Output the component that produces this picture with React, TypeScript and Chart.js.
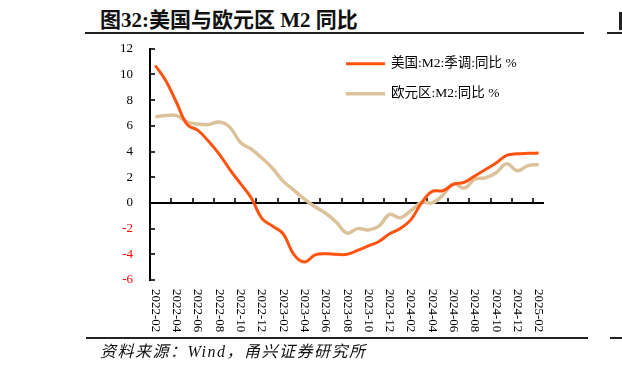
import React, { useEffect, useRef } from 'react';
import { Chart, registerables } from 'chart.js';
Chart.register(...registerables);

const categories = [
  '2022-02', '2022-03', '2022-04', '2022-05', '2022-06', '2022-07', '2022-08', '2022-09', '2022-10', '2022-11', '2022-12',
  '2023-01', '2023-02', '2023-03', '2023-04', '2023-05', '2023-06', '2023-07', '2023-08', '2023-09', '2023-10', '2023-11', '2023-12',
  '2024-01', '2024-02', '2024-03', '2024-04', '2024-05', '2024-06', '2024-07', '2024-08', '2024-09', '2024-10', '2024-11', '2024-12',
  '2025-01', '2025-02',
];

const usM2 = [
  10.7, 9.5, 7.8, 6.1, 5.65, 4.8, 3.8, 2.6, 1.5, 0.4, -1.2,
  -1.8, -2.4, -4.0, -4.6, -4.05, -3.95, -4.0, -4.0, -3.7, -3.35, -3.0, -2.4,
  -2.0, -1.3, 0.0, 0.9, 0.95, 1.45, 1.6, 2.1, 2.6, 3.1, 3.7, 3.82,
  3.86, 3.88,
];

const euM2 = [
  6.7, 6.8, 6.8, 6.3, 6.15, 6.1, 6.3, 5.9, 4.7, 4.2, 3.5,
  2.7, 1.7, 1.0, 0.3, -0.3, -0.8, -1.5, -2.35, -2.0, -2.1, -1.8, -0.9,
  -1.15, -0.6, 0.05, 0.0, 0.6, 1.5, 1.15, 1.85, 1.95, 2.35, 3.05, 2.5,
  2.9, 3.0,
];

const seriesNames = ['美国:M2:季调:同比 %', '欧元区:M2:同比 %'];
const seriesColors = ['#FF530F', '#DBC29B'];
const yMin = -6;
const yMax = 12;
const yStep = 2;

const FONT = '"Liberation Serif", "Times New Roman", "Noto Sans CJK SC", serif';

const axisPlugin = {
  id: 'axisDecor',
  beforeDatasetsDraw(chart: any) {
    const { ctx, chartArea, scales } = chart;
    const x = scales.x;
    const y = scales.y;
    ctx.save();
    ctx.strokeStyle = '#000';
    const y0 = y.getPixelForValue(0);
    ctx.lineWidth = 2;
    ctx.beginPath();
    ctx.moveTo(chartArea.left, y0);
    ctx.lineTo(chartArea.right, y0);
    ctx.stroke();
    ctx.lineWidth = 1.6;
    for (let k = 2; k < categories.length; k += 2) {
      const px = Math.round((x.getPixelForValue(k - 1) + x.getPixelForValue(k)) / 2);
      ctx.beginPath();
      ctx.moveTo(px, y0);
      ctx.lineTo(px, y0 - 5);
      ctx.stroke();
    }
    y.ticks.forEach((t: any) => {
      const py = Math.round(y.getPixelForValue(t.value));
      ctx.beginPath();
      ctx.moveTo(chartArea.left, py);
      ctx.lineTo(chartArea.left + 5, py);
      ctx.stroke();
    });
    ctx.restore();
  },
  afterDatasetsDraw(chart: any) {
    const { ctx, chartArea, scales } = chart;
    const x = scales.x;
    ctx.save();
    ctx.font = `13px ${FONT}`;
    ctx.fillStyle = '#000';
    ctx.textAlign = 'left';
    ctx.textBaseline = 'middle';
    for (let i = 0; i < categories.length; i += 2) {
      const px = x.getPixelForValue(i);
      ctx.save();
      ctx.translate(px, chartArea.bottom + 9);
      ctx.rotate(Math.PI / 2);
      ctx.fillText(categories[i], 0, 0);
      ctx.restore();
    }
    // legend
    chart.data.datasets.forEach((ds: any, i: number) => {
      const ly = chartArea.top + 15 + i * 30;
      const lx = chartArea.left + 196;
      ctx.strokeStyle = ds.borderColor;
      ctx.lineWidth = ds.borderWidth;
      ctx.beginPath();
      ctx.moveTo(lx, ly);
      ctx.lineTo(lx + 39, ly);
      ctx.stroke();
      ctx.fillStyle = '#000';
      ctx.font = `13.5px ${FONT}`;
      ctx.fillText(ds.label, lx + 45, ly);
    });
    ctx.restore();
  },
};

export default function App() {
  const ref = useRef<HTMLCanvasElement | null>(null);
  useEffect(() => {
    if (!ref.current) return;
    const chart = new Chart(ref.current, {
      type: 'line',
      data: {
        labels: categories,
        datasets: [
          {
            label: seriesNames[0],
            data: usM2,
            borderColor: seriesColors[0],
            borderWidth: 3,
            pointRadius: 0,
            tension: 0.4,
            fill: false,
          },
          {
            label: seriesNames[1],
            data: euM2,
            borderColor: seriesColors[1],
            borderWidth: 3.5,
            pointRadius: 0,
            tension: 0.4,
            fill: false,
          },
        ],
      },
      options: {
        animation: false,
        responsive: false,
        devicePixelRatio: 1,
        layout: { padding: { top: 7, right: 26, left: 0, bottom: 0 } },
        plugins: { legend: { display: false }, tooltip: { enabled: false } },
        scales: {
          x: {
            offset: true,
            grid: { display: false, drawTicks: false },
            border: { display: false },
            ticks: { display: false },
            afterFit: (s: any) => { s.height = 60; },
          },
          y: {
            min: yMin,
            max: yMax,
            grid: { display: false, drawTicks: false },
            border: { display: true, color: '#000', width: 2 },
            ticks: {
              stepSize: yStep,
              padding: 17,
              font: { family: FONT, size: 13 },
              color: (c: any) => (c.tick && c.tick.value < 0 ? '#FF0000' : '#000'),
            },
            afterFit: (s: any) => { s.width = 60; },
          },
        },
      },
      plugins: [axisPlugin],
    });
    return () => chart.destroy();
  }, []);

  const serif = '"Liberation Serif", "Times New Roman", "Noto Sans CJK SC", serif';
  return (
    <div style={{ position: 'absolute', left: 0, top: 0, width: 622, height: 371, background: '#fff', overflow: 'hidden' }}>
      <div style={{ position: 'absolute', left: 100, top: 7, fontFamily: serif, fontWeight: 'bold', fontSize: 21, lineHeight: '26px', color: '#111', whiteSpace: 'nowrap' }}>
        图32:美国与欧元区 M2 同比
      </div>
      <div style={{ position: 'absolute', left: 85, top: 32, width: 499, height: 2, background: '#222' }} />
      <div style={{ position: 'absolute', left: 607, top: 32, width: 15, height: 2, background: '#222' }} />
      <div style={{ position: 'absolute', left: 619, top: 12, width: 3, height: 18, background: '#222' }} />
      <canvas ref={ref} width={480} height={316} style={{ position: 'absolute', left: 90, top: 24, width: 480, height: 316 }} />
      <div style={{ position: 'absolute', left: 86, top: 337, width: 502, height: 1.5, background: '#222' }} />
      <div style={{ position: 'absolute', left: 610, top: 337, width: 12, height: 1.5, background: '#222' }} />
      <div style={{ position: 'absolute', left: 100, top: 343, fontFamily: serif, fontStyle: 'italic', fontSize: 16, letterSpacing: '1.5px', lineHeight: '18px', color: '#111', whiteSpace: 'nowrap' }}>
        资料来源：Wind，甬兴证券研究所
      </div>
    </div>
  );
}
